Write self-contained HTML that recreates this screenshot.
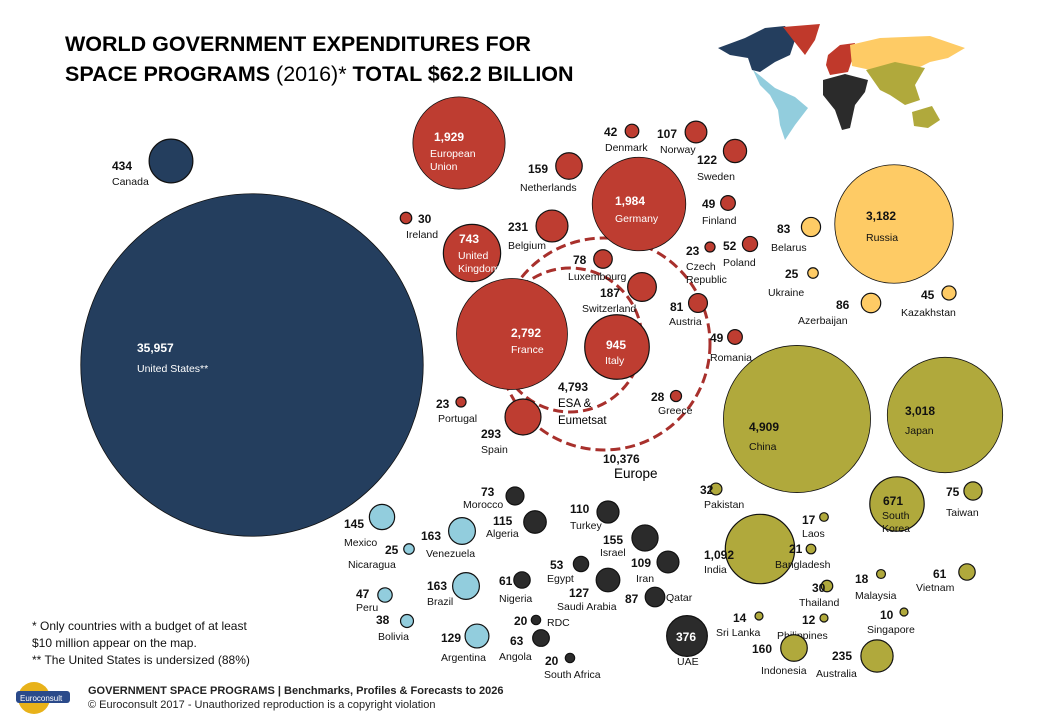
<!DOCTYPE html>
<html><head><meta charset="utf-8"><style>
body{margin:0;background:#fff}
svg{display:block;font-family:"Liberation Sans",sans-serif}
.v{font-weight:bold;font-size:12px;fill:#111}
.n{font-size:10.5px;fill:#111}
.w{fill:#fff}
</style></head><body>
<svg id="c" width="1040" height="720" viewBox="0 0 1040 720">
<text x="65" y="51" font-size="21.5" font-weight="bold" fill="#000">WORLD GOVERNMENT EXPENDITURES FOR</text>
<text x="65" y="81" font-size="21.5" font-weight="bold" fill="#000">SPACE PROGRAMS <tspan font-weight="normal">(2016)*</tspan> TOTAL $62.2 BILLION</text>
<g>
<path fill="#243e5e" d="M718,48 L745,38 L765,28 L785,26 L795,40 L790,55 L775,62 L760,72 L752,70 L748,58 L730,55 Z"/>
<path fill="#c0392b" d="M783,27 L820,24 L815,40 L805,55 L797,45 Z"/>
<path fill="#c0392b" d="M828,55 L840,45 L855,43 L852,60 L848,72 L830,75 L826,65 Z"/>
<path fill="#fecb65" d="M850,45 L880,38 L930,36 L965,48 L948,58 L930,62 L910,72 L880,72 L852,66 Z"/>
<path fill="#b0a93c" d="M866,70 L895,62 L925,68 L915,85 L920,100 L905,105 L890,95 L880,90 Z"/>
<path fill="#b0a93c" d="M912,112 L932,106 L940,120 L928,128 L914,126 Z"/>
<path fill="#2b2b2b" d="M823,80 L845,74 L868,80 L865,92 L855,105 L850,128 L842,130 L835,110 L823,95 Z"/>
<path fill="#92cddd" d="M753,70 L775,88 L795,97 L808,108 L795,125 L785,140 L780,125 L778,110 L770,95 L760,85 Z"/>
</g>
<circle cx="604" cy="344" r="106" fill="none" stroke="#a8302c" stroke-width="3" stroke-dasharray="10,5"/>
<circle cx="570" cy="340" r="72" fill="none" stroke="#a8302c" stroke-width="3" stroke-dasharray="10,5"/>
<g id="bubbles"></g>
<text class="v" x="558" y="391">4,793</text>
<text font-size="11.5" x="558" y="407">ESA &amp;</text>
<text font-size="11.5" x="558" y="424">Eumetsat</text>
<text class="v" x="603" y="463">10,376</text>
<text font-size="13.5" x="614" y="478">Europe</text>
<g font-size="12" fill="#111">
<text x="32" y="630">* Only countries with  a budget of at least</text>
<text x="32" y="647">$10 million  appear on the map.</text>
<text x="32" y="664">** The United States is undersized (88%)</text>
</g>
<g>
<circle cx="34" cy="698" r="16" fill="#e8b21a"/>
<rect x="16" y="691" width="54" height="12" rx="3" fill="#2a4a8a"/>
<text x="20" y="701" font-size="8" fill="#fff">Euroconsult</text>
</g>
<text x="88" y="694" font-size="11" font-weight="bold" fill="#222">GOVERNMENT SPACE PROGRAMS | Benchmarks, Profiles &amp; Forecasts to 2026</text>
<text x="88" y="708" font-size="11" fill="#222">© Euroconsult 2017 - Unauthorized reproduction is a copyright violation</text>
</svg>
<script>
const countries=["United States","Canada","European Union","Denmark","Norway","Netherlands","Sweden","Germany","Finland","Ireland","Belgium","United Kingdom","Czech Republic","Poland","Luxembourg","Switzerland","France","Italy","Austria","Romania","Portugal","Spain","Greece","Belarus","Russia","Ukraine","Azerbaijan","Kazakhstan","China","Japan","Pakistan","South Korea","Taiwan","India","Laos","Bangladesh","Malaysia","Vietnam","Thailand","Sri Lanka","Philippines","Singapore","Indonesia","Australia","Morocco","Algeria","Turkey","Israel","Iran","Egypt","Nigeria","Saudi Arabia","Qatar","RDC","Angola","South Africa","UAE","Mexico","Nicaragua","Venezuela","Brazil","Peru","Bolivia","Argentina"];
const values=[35957,434,1929,42,107,159,122,1984,49,30,231,743,23,52,78,187,2792,945,81,49,23,293,28,83,3182,25,86,45,4909,3018,32,671,75,1092,17,21,18,61,30,14,12,10,160,235,73,115,110,155,109,53,61,127,87,20,63,20,376,145,25,163,163,47,38,129];
const regions=["na","na","eu","eu","eu","eu","eu","eu","eu","eu","eu","eu","eu","eu","eu","eu","eu","eu","eu","eu","eu","eu","eu","ru","ru","ru","ru","ru","as","as","as","as","as","as","as","as","as","as","as","as","as","as","as","as","af","af","af","af","af","af","af","af","af","af","af","af","af","la","la","la","la","la","la","la"];
const colors={na:"#243e5e",eu:"#be3d31",ru:"#fecb65",as:"#b0a93c",af:"#2b2b2b",la:"#92cddd"};
// layout: cx,cy, value label x,y, name label x,y, inside flag
const layout=[[252,365,137,352,137,372,1],[171,161,112,170,112,185,0],[459,143,434,141,430,157,1],[632,131,604,136,605,151,0],[696,132,657,138,660,153,0],[569,166,528,173,520,191,0],[735,151,697,164,697,180,0],[639,204,615,205,615,222,1],[728,203,702,208,702,224,0],[406,218,418,223,406,238,0],[552,226,508,231,508,249,0],[472,253,459,243,458,259,1],[710,247,686,255,686,270,0],[750,244,723,250,723,266,0],[603,259,573,264,568,280,0],[642,287,600,297,582,312,0],[512,334,511,337,511,353,1],[617,347,606,349,605,364,1],[698,303,670,311,669,325,0],[735,337,710,342,710,361,0],[461,402,436,408,438,422,0],[523,417,481,438,481,453,0],[676,396,651,401,658,414,0],[811,227,777,233,771,251,0],[894,224,866,220,866,241,1],[813,273,785,278,768,296,0],[871,303,836,309,798,324,0],[949,293,921,299,901,316,0],[797,419,749,431,749,450,1],[945,415,905,415,905,434,1],[716,489,700,494,704,508,0],[897,504,883,505,882,519,1],[973,491,946,496,946,516,0],[760,549,704,559,704,573,1],[824,517,802,524,802,537,0],[811,549,789,553,775,568,0],[881,574,855,583,855,599,0],[967,572,933,578,916,591,0],[827,586,812,592,799,606,0],[759,616,733,622,716,636,0],[824,618,802,624,777,639,0],[904,612,880,619,867,633,0],[794,648,752,653,761,674,0],[877,656,832,660,816,677,0],[515,496,481,496,463,508,0],[535,522,493,525,486,537,0],[608,512,570,513,570,529,0],[645,538,603,544,600,556,0],[668,562,631,567,636,582,0],[581,564,550,569,547,582,0],[522,580,499,585,499,602,0],[608,580,569,597,557,610,0],[655,597,625,603,666,601,0],[536,620,514,625,547,626,0],[541,638,510,645,499,660,0],[570,658,545,665,544,678,0],[687,636,676,641,677,665,1],[382,517,344,528,344,546,0],[409,549,385,554,348,568,0],[462,531,421,540,426,557,0],[466,586,427,590,427,605,0],[385,595,356,598,356,611,0],[407,621,376,624,378,640,0],[477,636,441,642,441,661,0]];
const rScale=v=>Math.max(4,1.05*Math.sqrt(v));
const ns="http://www.w3.org/2000/svg";
const g=document.getElementById("bubbles");
countries.forEach((name,i)=>{
  const L=layout[i],v=values[i];
  let r=rScale(v); if(name==="United States") r*=0.86;
  const c=document.createElementNS(ns,"circle");
  c.setAttribute("cx",L[0]);c.setAttribute("cy",L[1]);c.setAttribute("r",r);
  c.setAttribute("fill",colors[regions[i]]);c.setAttribute("stroke","#111");c.setAttribute("stroke-width",r>40?0.8:1.2);
  
  
  g.appendChild(c);
  const inside=L[6]===1;
  const light=inside&&(regions[i]==="eu"||regions[i]==="na"||name==="UAE");
  const tv=document.createElementNS(ns,"text");
  tv.setAttribute("x",L[2]);tv.setAttribute("y",L[3]);
  tv.setAttribute("class","v"+(light?" w":""));
  if(inside) tv.setAttribute("font-size",r>40?"13.5":"12");
  tv.textContent=v.toLocaleString("en-US");
  
  
  g.appendChild(tv);
  const lbl=name==="United States"?"United States**":name;
  const parts=(inside&&(name==="United Kingdom"||name==="European Union"||name==="South Korea"))?lbl.split(" "):(name==="Czech Republic"?["Czech","Republic"]:[lbl]);
  parts.forEach((p,j)=>{
    const tn=document.createElementNS(ns,"text");
    tn.setAttribute("x",L[4]);tn.setAttribute("y",L[5]+j*13);
    tn.setAttribute("class","n"+((light&&name!=="UAE")?" w":""));
    if(inside&&r>40) tn.setAttribute("font-size","11.5");
    tn.textContent=p;
    
    
    g.appendChild(tn);
  });
});
</script>
</body></html>
